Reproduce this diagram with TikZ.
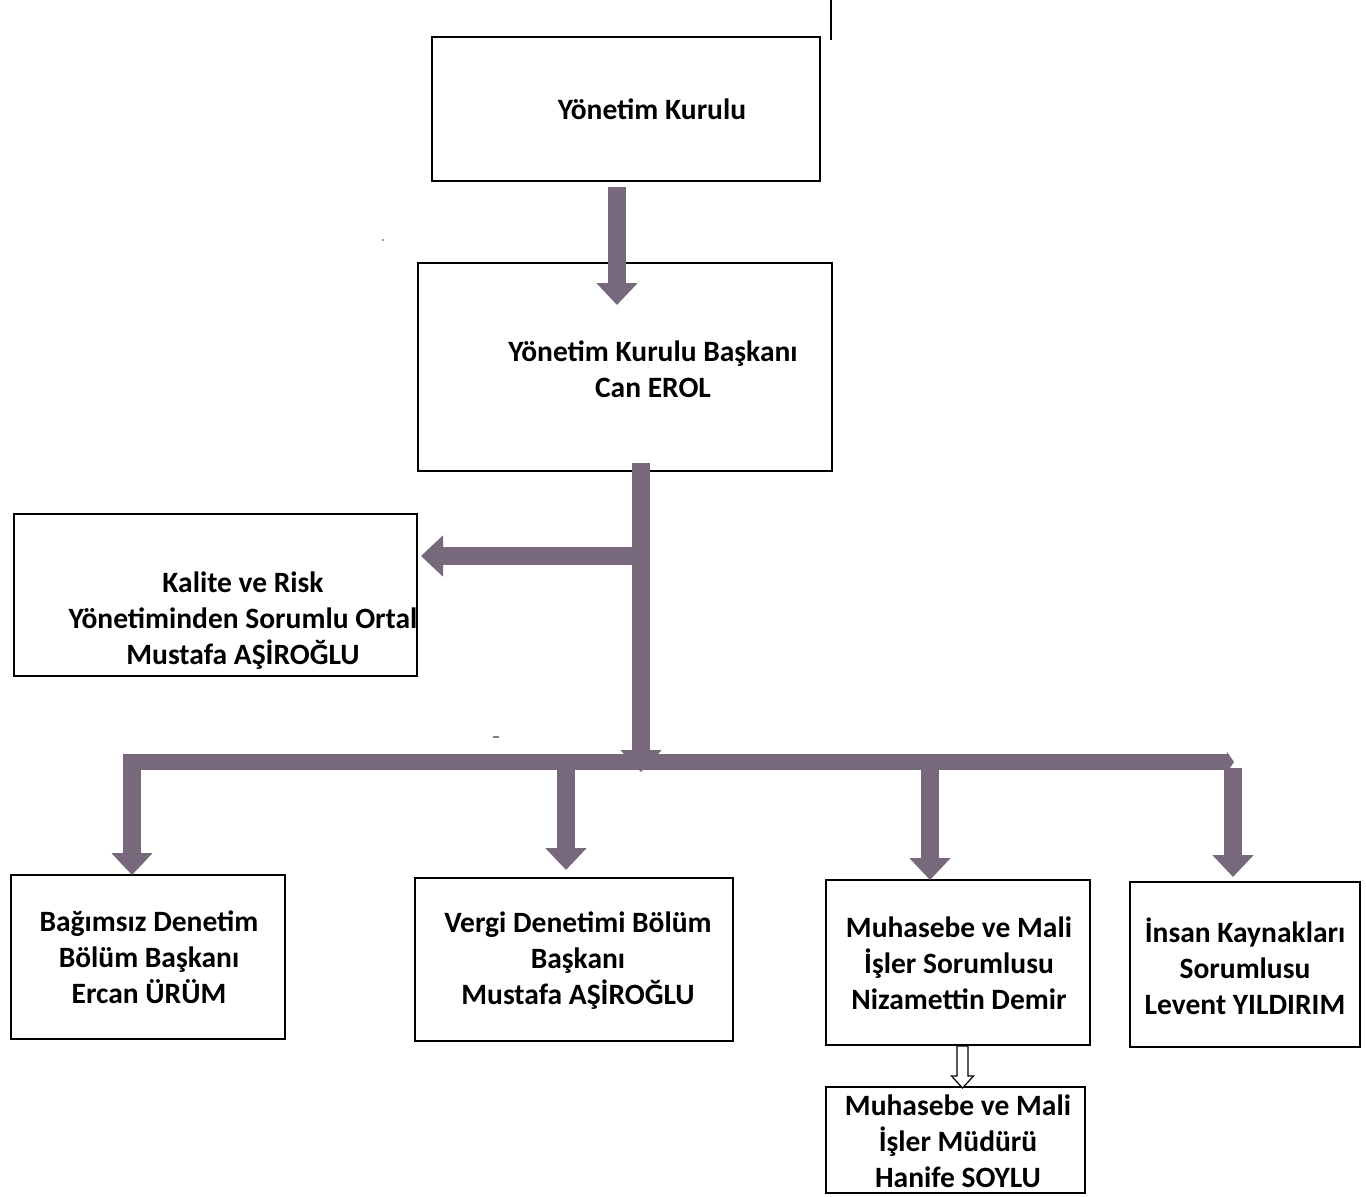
\documentclass[tikz,border=0pt]{standalone}
\usepackage{fontspec}
\setmainfont{Carlito}
\usetikzlibrary{arrows.meta}
\definecolor{arrowfill}{HTML}{77687B}
\tikzset{
  box/.style={draw=black,line width=1.8pt,fill=white,inner sep=0pt,outer sep=0pt,anchor=north west},
  lbl/.style={font=\fontsize{29.5}{36}\selectfont\bfseries,align=center,inner sep=0pt},
  bigarrow/.style={draw=arrowfill,line width=18pt,-{Triangle[width=40pt,length=22pt]}},
  bararrow/.style={draw=arrowfill,line width=16pt,-{Triangle[width=20pt,length=7pt]}},
  hollowarrow/.style={draw=black,line width=1.2pt,fill=white,line join=miter},
}
\begin{document}
\begin{tikzpicture}[x=1pt,y=-1pt]
\useasboundingbox[fill=white] (0,0) rectangle (1366,1197);
% boxes
\node[box,minimum width=388pt,minimum height=144pt] (board) at (432,37) {};
\node[box,minimum width=414pt,minimum height=208pt] (chair) at (418,263) {};
\node[box,minimum width=403pt,minimum height=162pt] (quality) at (14,514) {};
\node[box,minimum width=274pt,minimum height=164pt] (audit) at (11,875) {};
\node[box,minimum width=318pt,minimum height=163pt] (tax) at (415,878) {};
\node[box,minimum width=264pt,minimum height=165pt] (acc) at (826,880) {};
\node[box,minimum width=230pt,minimum height=165pt] (hr) at (1130,882) {};
\node[box,minimum width=259pt,minimum height=106pt] (mgr) at (826,1087) {};
% texts
\node[lbl] (tboard) at (652,109) {Yönetim Kurulu};
\node[lbl] (tchair) at (653,369) {Yönetim Kurulu Başkanı\\Can EROL};
\node[lbl] (tquality) at (243,621) {Kalite ve Risk\\Yönetiminden Sorumlu Ortal\\Mustafa AŞİROĞLU};
\node[lbl] (taudit) at (149,957) {Bağımsız Denetim\\Bölüm Başkanı\\Ercan ÜRÜM};
\node[lbl] (ttax) at (578,961) {Vergi Denetimi Bölüm\\Başkanı\\Mustafa AŞİROĞLU};
\node[lbl] (tacc) at (959,963) {Muhasebe ve Mali\\İşler Sorumlusu\\Nizamettin Demir};
\node[lbl] (thr) at (1245,966) {İnsan Kaynakları\\Sorumlusu\\Levent YILDIRIM};
\node[lbl] (tmgr) at (958,1141) {Muhasebe ve Mali\\İşler Müdürü\\Hanife SOYLU};
% connector coordinates
\coordinate (a1s) at ([xshift=-9pt,yshift=-6pt]board.south);
\coordinate (a1e) at ([xshift=-8pt,yshift=-42pt]chair.north);
\coordinate (trunkS) at ([xshift=16pt,yshift=8pt]chair.south);
\coordinate (trunkE) at (641,772);
\coordinate (sideS) at (trunkS |- 0,556);
\coordinate (sideE) at ([xshift=4pt]quality.east |- 0,556);
\coordinate (barL) at (124,762);
\coordinate (barR) at (1234,762);
\coordinate (j1) at (132,754);
\coordinate (j2) at (566,762);
\coordinate (j3) at (930,762);
\coordinate (j4) at (1233,768);
% arrows
\draw[bigarrow] (a1s) -- (a1e);
\draw[bararrow] (barL) -- (barR);
\draw[bigarrow] (trunkS) -- (trunkE);
\draw[bigarrow] (sideS) -- (sideE);
\draw[bigarrow] (j1) -- (j1 |- audit.north);
\draw[bigarrow] (j2) -- ([yshift=8pt]j2 |- tax.north);
\draw[bigarrow] (j3) -- (j3 |- acc.north);
\draw[bigarrow] (j4) -- ([yshift=5pt]j4 |- hr.north);
% hollow arrow
\draw[hollowarrow] ([xshift=-0.5pt,yshift=-1pt]acc.south east -| 963,0) ++(-5.5,0) -- ++(0,30) -- ++(-5.5,0) -- ++(11,12) -- ++(11,-12) -- ++(-5.5,0) -- ++(0,-30) -- cycle;
% scan marks
\draw[line width=2pt] (831,0) -- (831,40);
\draw[line width=1.5pt,gray] (493,737) -- (499,737);
\fill[gray] (383,240) circle (1.2pt);
\end{tikzpicture}
\end{document}
